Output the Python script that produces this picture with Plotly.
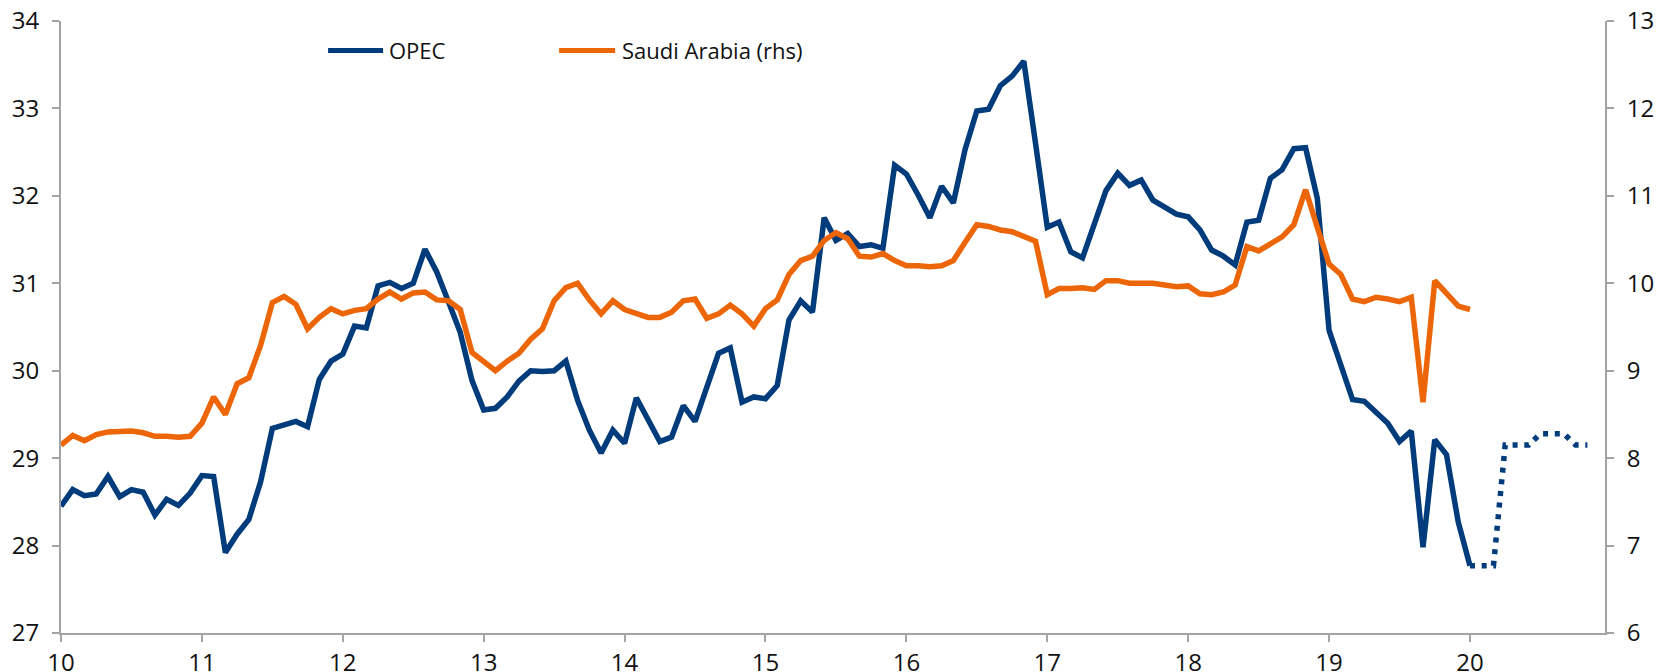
import plotly.graph_objects as go

# Monthly data, Jan 2010 (10.0) to Jan 2020 (20.0); x labels are years (2-digit)
start_year = 10
opec = [
    28.45, 28.64, 28.57, 28.59, 28.79, 28.56, 28.64, 28.61, 28.35, 28.53, 28.46, 28.60,
    28.80, 28.79, 27.92, 28.13, 28.30, 28.73, 29.34, 29.38, 29.42, 29.36, 29.90, 30.11,
    30.19, 30.51, 30.49, 30.97, 31.01, 30.94, 31.00, 31.39, 31.13, 30.79, 30.44, 29.89,
    29.55, 29.57, 29.70, 29.88, 30.00, 29.99, 30.00, 30.11, 29.66, 29.32, 29.06, 29.32,
    29.17, 29.69, 29.44, 29.19, 29.24, 29.60, 29.42, 29.81, 30.20, 30.26, 29.64, 29.70,
    29.68, 29.83, 30.58, 30.80, 30.67, 31.75, 31.49, 31.57, 31.42, 31.44, 31.40, 32.35,
    32.25, 32.01, 31.75, 32.11, 31.92, 32.53, 32.97, 32.99, 33.26, 33.37, 33.54, 32.60,
    31.64, 31.70, 31.36, 31.29, 31.70, 32.06, 32.26, 32.12, 32.18, 31.95, 31.87, 31.79,
    31.76, 31.61, 31.38, 31.31, 31.21, 31.70, 31.72, 32.20, 32.30, 32.54, 32.55, 31.97,
    30.46, 30.08, 29.67, 29.65, 29.52, 29.40, 29.19, 29.31, 27.98, 29.21, 29.04, 28.27,
    27.77,
]
saudi_rhs = [
    8.15, 8.26, 8.20, 8.27, 8.30, 8.30, 8.31, 8.29, 8.25, 8.25, 8.24, 8.25,
    8.40, 8.70, 8.50, 8.85, 8.92, 9.29, 9.78, 9.85, 9.76, 9.48, 9.61, 9.71,
    9.65, 9.69, 9.71, 9.82, 9.90, 9.82, 9.89, 9.90, 9.81, 9.80, 9.70, 9.21,
    9.10, 9.00, 9.11, 9.20, 9.36, 9.48, 9.80, 9.95, 10.00, 9.81, 9.65, 9.80,
    9.70, 9.65, 9.61, 9.61, 9.67, 9.80, 9.82, 9.60, 9.65, 9.75, 9.65, 9.51,
    9.71, 9.81, 10.10, 10.26, 10.31, 10.49, 10.58, 10.51, 10.31, 10.30, 10.34, 10.26,
    10.20, 10.20, 10.19, 10.20, 10.26, 10.47, 10.67, 10.65, 10.61, 10.59, 10.54, 10.48,
    9.87, 9.94, 9.94, 9.95, 9.93, 10.03, 10.03, 10.00, 10.00, 10.00, 9.98, 9.96,
    9.97, 9.88, 9.87, 9.90, 9.98, 10.42, 10.37, 10.45, 10.53, 10.67, 11.07, 10.64,
    10.22, 10.10, 9.82, 9.79, 9.84, 9.82, 9.79, 9.84, 8.64, 10.03, 9.88, 9.74,
    9.70,
]
# OPEC forecast (dotted), Jan 2020 to Nov 2020
opec_forecast = [27.77, 27.77, 27.77, 29.15, 29.15, 29.15, 29.28, 29.28, 29.28, 29.15, 29.15]

x_tick_labels = ["10", "11", "12", "13", "14", "15", "16", "17", "18", "19", "20"]
series_names = ["OPEC", "Saudi Arabia (rhs)"]

x_hist = [start_year + i / 12 for i in range(len(opec))]
x_fc = [start_year + (len(opec) - 1 + i) / 12 for i in range(len(opec_forecast))]

NAVY = "#003B7B"
ORANGE = "#EC6608"
AXIS = "#A3A3A3"
FONT = "Open Sans"
TXT = "#111111"
LW = 5.5

fig = go.Figure()
fig.add_trace(go.Scatter(x=x_hist, y=saudi_rhs, yaxis="y2", mode="lines",
                         line=dict(color=ORANGE, width=LW), name=series_names[1]))
fig.add_trace(go.Scatter(x=x_hist, y=opec, mode="lines",
                         line=dict(color=NAVY, width=LW), name=series_names[0]))
fig.add_trace(go.Scatter(x=x_fc, y=opec_forecast, mode="lines",
                         line=dict(color=NAVY, width=LW, dash="5px,6.7px"),
                         showlegend=False))

tickvals = [start_year + k for k in range(len(x_tick_labels))]

axis_common = dict(showgrid=False, zeroline=False, showline=True, linecolor=AXIS,
                   linewidth=2, ticks="outside", ticklen=7, tickwidth=2, tickcolor=AXIS,
                   automargin=False, ticklabeloverflow="allow",
                   tickfont=dict(family=FONT, size=24, color=TXT))

# page body has an 8px margin: size the figure so the plot area lands where the reference has it
fig.update_layout(
    width=1657, height=664,
    margin=dict(l=53, r=60, t=13, b=39),
    paper_bgcolor="white", plot_bgcolor="white",
    showlegend=False,
    font=dict(family=FONT, size=22, color=TXT),
    xaxis=dict(range=[start_year, start_year + 131.5 / 12], tickmode="array",
               tickvals=tickvals, ticktext=x_tick_labels, ticklabelstandoff=0,
               **axis_common),
    yaxis=dict(range=[27, 34], tickmode="linear", tick0=27, dtick=1,
               ticklabelstandoff=8, **axis_common),
    yaxis2=dict(range=[6, 13], tickmode="linear", tick0=6, dtick=1, overlaying="y",
                side="right", ticklabelstandoff=8, **axis_common),
)

# Manual legend (line samples + labels)
legend_y = 0.952
for (x0, x1, tx, color, label) in [(0.173, 0.2086, 0.2112, NAVY, series_names[0]),
                                   (0.3226, 0.3589, 0.3622, ORANGE, series_names[1])]:
    fig.add_shape(type="line", xref="paper", yref="paper", x0=x0, x1=x1,
                  y0=legend_y, y1=legend_y, line=dict(color=color, width=5))
    fig.add_annotation(xref="paper", yref="paper", x=tx, y=legend_y, text=label,
                       showarrow=False, xanchor="left", yanchor="middle",
                       font=dict(family=FONT, size=22, color=TXT))

fig.write_html("out.html")
